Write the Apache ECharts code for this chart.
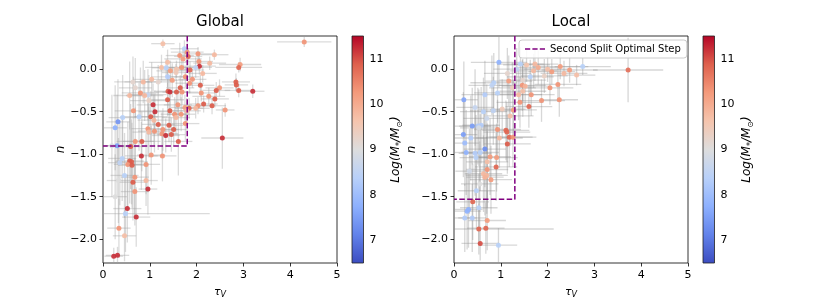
<!DOCTYPE html>
<html><head><meta charset="utf-8">
<script src="https://cdn.jsdelivr.net/npm/echarts@6/dist/echarts.min.js"></script>
<style>html,body{margin:0;padding:0;background:#fff}#c{width:830px;height:297px}</style>
</head><body><div id="c"></div>
<script>
// ---- Global panel data ----
const gTau = [4.30,1.28,1.74,1.80,2.03,2.38,1.64,1.82,1.71,2.05,
  1.38,2.28,2.93,2.90,2.06,1.98,1.25,1.35,1.57,1.68,
  1.86,1.44,1.56,2.13,1.38,1.04,1.76,1.91,2.84,2.85,
  0.64,0.86,1.18,1.48,1.85,2.08,2.49,2.42,2.90,3.20,
  0.69,0.80,1.39,1.43,1.65,1.57,1.69,0.96,0.89,0.57,
  2.10,2.26,1.38,0.98,2.39,1.60,2.15,2.33,2.03,1.07,
  1.11,1.75,1.84,2.61,1.98,1.79,1.43,0.65,1.02,1.53,
  1.67,1.56,0.77,0.42,0.32,0.26,1.09,1.18,1.41,1.76,
  0.96,1.51,1.28,1.10,0.98,1.26,1.34,1.46,2.55,1.61,
  0.69,0.83,0.30,0.19,0.59,1.03,1.27,0.82,0.41,0.57,
  0.61,0.36,0.53,0.62,0.92,0.46,0.68,0.33,0.64,0.92,
  0.96,0.68,0.26,0.52,0.48,0.71,0.34,0.46,0.23,0.31];
const gN = [0.32,0.30,0.24,0.20,0.18,0.17,0.16,0.15,0.12,0.09,
  0.08,0.07,0.055,0.02,0.035,0.02,0.02,0.016,0.0,0.02,
  -0.01,-0.02,-0.04,-0.05,-0.09,-0.12,-0.09,-0.12,-0.15,-0.185,
  -0.15,-0.15,-0.15,-0.13,-0.165,-0.19,-0.22,-0.25,-0.25,-0.26,
  -0.22,-0.28,-0.26,-0.27,-0.22,-0.27,-0.27,-0.30,-0.31,-0.31,
  -0.28,-0.32,-0.36,-0.37,-0.35,-0.42,-0.41,-0.43,-0.43,-0.42,
  -0.50,-0.45,-0.46,-0.48,-0.46,-0.49,-0.49,-0.49,-0.56,-0.53,
  -0.53,-0.57,-0.56,-0.57,-0.62,-0.69,-0.60,-0.65,-0.66,-0.64,
  -0.70,-0.71,-0.71,-0.73,-0.74,-0.76,-0.78,-0.77,-0.81,-0.85,
  -0.85,-0.85,-0.90,-0.90,-0.91,-1.01,-1.02,-1.02,-1.05,-1.08,
  -1.09,-1.10,-1.12,-1.13,-1.12,-1.25,-1.27,-1.31,-1.33,-1.31,
  -1.41,-1.44,-1.50,-1.64,-1.70,-1.74,-1.87,-1.96,-2.20,-2.19];
const gTauErr = [0.58,0.25,0.30,0.35,0.30,0.30,0.30,0.30,0.40,0.30,
  0.40,0.35,0.45,0.50,0.35,0.35,0.35,0.30,0.35,0.30,
  0.30,0.30,0.30,0.30,0.35,0.40,0.30,0.30,0.30,0.25,
  0.40,0.40,0.35,0.30,0.30,0.30,0.30,0.30,0.30,0.25,
  0.35,0.40,0.30,0.30,0.30,0.30,0.35,0.40,0.40,0.35,
  0.30,0.35,0.35,0.40,0.30,0.30,0.30,0.30,0.30,0.35,
  0.35,0.30,0.30,0.20,0.30,0.30,0.35,0.40,0.35,0.30,
  0.30,0.30,0.40,0.30,0.25,0.25,0.35,0.35,0.30,0.30,
  0.35,0.30,0.35,0.35,0.35,0.35,0.30,0.30,0.45,0.30,
  0.40,0.40,0.25,0.20,0.30,0.30,0.30,0.35,0.30,0.30,
  0.35,0.25,0.30,0.30,0.30,0.30,0.30,0.25,0.30,0.25,
  0.20,0.30,0.25,0.30,1.80,0.30,0.25,0.25,0.20,0.25];
const gNErr = [0.06,0.05,0.10,0.12,0.08,0.06,0.15,0.10,0.12,0.10,
  0.15,0.08,0.08,0.06,0.10,0.12,0.15,0.10,0.10,0.12,
  0.10,0.12,0.10,0.10,0.12,0.20,0.12,0.10,0.10,0.08,
  0.30,0.25,0.20,0.20,0.12,0.12,0.10,0.10,0.08,0.08,
  0.35,0.30,0.20,0.20,0.15,0.15,0.15,0.30,0.30,0.40,
  0.10,0.10,0.20,0.30,0.10,0.15,0.10,0.10,0.10,0.25,
  0.25,0.15,0.12,0.08,0.12,0.15,0.20,0.40,0.30,0.20,
  0.20,0.20,0.40,0.50,0.50,0.50,0.30,0.30,0.20,0.20,
  0.30,0.20,0.25,0.25,0.30,0.25,0.20,0.20,0.36,0.40,
  0.40,0.35,0.60,0.60,0.50,0.35,0.30,0.40,0.50,0.50,
  0.50,0.50,0.50,0.50,0.35,0.50,0.45,0.50,0.45,0.30,
  0.30,0.40,0.50,0.40,0.45,0.35,0.35,0.30,0.10,0.10];
const gMass = [10.3,9.7,8.4,10.3,10.3,9.8,10.3,10.8,10.2,10.3,
  9.7,9.8,10.2,10.8,11.2,8.5,9.7,8.4,9.6,10.3,
  10.8,10.2,9.5,9.8,8.3,9.8,10.3,10.3,10.9,10.9,
  9.2,9.8,9.2,10.2,10.3,10.9,10.3,10.9,10.9,11.2,
  9.2,10.3,10.9,11.2,10.9,10.9,10.3,8.6,9.8,9.8,
  10.3,10.3,10.9,9.3,10.9,10.3,10.9,10.9,10.3,11.2,
  11.2,10.2,10.8,10.3,9.8,9.8,10.9,10.3,10.9,10.3,
  10.3,9.8,8.4,8.4,7.4,7.8,9.8,10.9,10.9,10.3,
  10.3,10.9,10.3,10.3,9.8,10.3,11.2,10.9,11.2,10.9,
  10.3,10.9,7.5,8.9,10.9,10.3,10.3,11.2,8.4,10.9,
  10.9,8.5,10.3,10.9,10.3,8.4,10.3,9.0,10.9,9.8,
  11.2,10.3,9.0,11.2,8.4,11.2,10.3,9.7,11.2,11.2];

// ---- Local panel data ----
const lTau = [3.72,2.75,2.27,2.47,2.62,2.00,2.09,1.93,2.22,2.05,
  2.25,1.87,1.65,1.60,1.41,0.96,1.42,1.73,1.63,1.34,
  1.47,1.46,1.47,1.17,1.14,0.85,0.81,0.93,0.66,0.21,
  0.63,0.84,1.03,1.27,1.20,1.11,0.93,1.13,0.97,1.18,
  1.26,1.14,0.39,0.51,0.58,0.53,0.20,0.36,0.23,0.66,
  0.26,0.45,0.56,0.47,0.77,0.91,0.71,0.90,0.71,0.63,
  0.70,0.66,0.79,0.48,0.40,0.53,0.31,0.28,0.23,0.39,
  0.71,0.53,0.68,0.56,0.95,1.55,1.70,1.80,1.52,1.38,
  1.25,0.70,0.45,0.33,0.55,2.35];
const lN = [-0.01,0.03,0.03,-0.01,-0.07,0.00,-0.03,-0.08,-0.18,-0.22,
  -0.36,-0.37,-0.30,-0.44,-0.39,0.08,0.06,0.06,-0.09,0.00,
  -0.13,-0.19,-0.26,-0.14,-0.05,-0.16,-0.19,-0.28,-0.30,-0.36,
  -0.50,-0.49,-0.47,-0.48,-0.55,-0.72,-0.71,-0.74,-0.81,-0.80,
  -0.80,-0.88,-0.67,-0.67,-0.66,-0.69,-0.77,-0.81,-0.87,-0.94,
  -0.98,-0.99,-0.98,-1.04,-1.03,-1.04,-1.09,-1.15,-1.18,-1.23,
  -1.25,-1.27,-1.30,-1.43,-1.56,-1.63,-1.65,-1.67,-1.75,-1.75,
  -1.78,-1.88,-1.87,-2.05,-2.07,0.05,-0.02,0.02,-0.20,-0.30,
  -0.22,-0.58,-0.45,-1.20,-1.35,-0.05];
const lTauErr = [0.75,0.60,0.60,0.60,0.40,0.50,0.50,0.50,0.50,0.50,
  0.40,0.50,0.50,0.50,0.50,0.60,0.50,0.50,0.50,0.50,
  0.50,0.50,0.50,0.50,0.50,0.50,0.50,0.50,0.50,0.30,
  0.50,0.50,0.50,0.50,0.50,0.50,0.50,0.50,0.50,0.50,
  0.50,0.50,0.40,0.40,0.40,0.40,0.30,0.35,0.30,0.45,
  0.30,0.35,0.40,0.35,0.45,0.45,0.45,0.45,0.45,0.40,
  0.45,0.40,0.45,0.40,0.35,0.40,0.30,0.30,0.25,0.30,
  0.40,1.60,0.40,0.40,0.40,0.50,0.50,0.50,0.50,0.50,
  0.50,0.50,0.40,0.30,0.40,0.50];
const lNErr = [0.38,0.10,0.15,0.15,0.12,0.15,0.15,0.20,0.20,0.20,
  0.20,0.25,0.25,0.25,0.30,0.30,0.20,0.20,0.20,0.25,
  0.25,0.30,0.30,0.30,0.30,0.35,0.35,0.35,0.40,0.45,
  0.40,0.40,0.35,0.35,0.35,0.35,0.35,0.35,0.35,0.35,
  0.35,0.35,0.45,0.45,0.45,0.45,0.50,0.50,0.50,0.45,
  0.50,0.50,0.45,0.50,0.45,0.40,0.45,0.40,0.45,0.45,
  0.45,0.45,0.40,0.45,0.45,0.40,0.45,0.45,0.40,0.40,
  0.35,0.30,0.30,0.20,0.20,0.20,0.20,0.20,0.25,0.30,
  0.30,0.40,0.45,0.50,0.50,0.15];
const lMass = [10.7,8.4,10.2,10.2,9.7,9.7,10.2,9.3,10.3,10.3,
  10.3,10.3,10.3,10.8,10.3,7.8,8.4,9.8,8.4,8.5,
  9.2,10.3,9.7,10.2,9.2,8.4,8.5,8.4,8.3,7.6,
  8.4,8.5,9.5,10.2,9.7,10.8,10.3,10.8,9.8,10.8,
  10.3,10.9,7.5,8.3,8.3,8.9,7.5,8.3,8.0,7.3,
  7.8,8.3,8.4,8.4,10.2,10.2,9.7,10.8,10.3,9.8,
  9.8,9.9,10.2,8.4,10.8,8.4,7.8,7.8,8.3,8.3,
  10.2,10.8,10.8,11.0,8.4,9.6,9.8,10.0,9.9,9.8,
  9.4,8.7,8.6,8.8,9.0,9.8];

// ---- Axes / annotations ----
const tauTicks = [0,1,2,3,4,5];
const nTicks = [-2,-1.5,-1,-0.5,0];
const massTicks = [7,8,9,10,11];
const nRange = [-2.28, 0.39];
const tauRange = [0, 5];
const massRange = [6.5, 11.5];
const globalStep = [1.8, -0.905];
const localStep = [1.3, -1.53];
const titles = ['Global', 'Local'];
const legendLabel = 'Second Split Optimal Step';
const coolwarm = ['#3b4cc0','#6282ea','#8db0fe','#b8d0f9','#dddddd','#f5c4ad','#f49a7b','#de604d','#b40426'];

const FONT = 'DejaVu Sans';
const chart = echarts.init(document.getElementById('c'), null, {renderer:'canvas'});

function zip(){ const a = arguments; return a[0].map((_, i) => Array.from(a, arr => arr[i])); }

function errItem(color){
  return function(params, api){
    const x = api.value(0), y = api.value(1), ex = api.value(2), ey = api.value(3);
    const a = api.coord([x-ex, y]), b = api.coord([x+ex, y]);
    const c = api.coord([x, y-ey]), d = api.coord([x, y+ey]);
    const st = {stroke: color, lineWidth: 1.3};
    return {type:'group', children:[
      {type:'line', shape:{x1:a[0], y1:a[1], x2:b[0], y2:b[1]}, style: st},
      {type:'line', shape:{x1:c[0], y1:c[1], x2:d[0], y2:d[1]}, style: st}
    ]};
  };
}
function cbarItem(params, api){
  const p0 = api.coord([0, massRange[1]]), p1 = api.coord([1, massRange[0]]);
  return {type:'rect', shape:{x:p0[0], y:p0[1], width:p1[0]-p0[0], height:p1[1]-p0[1]},
    style:{fill: new echarts.graphic.LinearGradient(0,1,0,0,
      coolwarm.map((c,i) => ({offset: i/(coolwarm.length-1), color: c}))),
      stroke:'#222', lineWidth:0.8}};
}
const fmtN = v => (v < 0 ? '\u2212' : '') + Math.abs(v).toFixed(1);
const axisTxt = {color:'#000', fontFamily: FONT, fontSize: 11};

function mainX(i){
  return {type:'value', gridIndex:i, min:tauRange[0], max:tauRange[1], interval:1,
    splitLine:{show:false}, axisLine:{show:false, onZero:false},
    axisTick:{show:true, length:3.5, customValues:tauTicks, lineStyle:{color:'#000', width:0.8}},
    axisLabel: Object.assign({margin:7, customValues:tauTicks}, axisTxt),
    name:'{t|\u03c4}{s|V}', nameLocation:'middle', nameGap:22,
    nameTextStyle:{rich:{t:{fontFamily:FONT, fontStyle:'italic', fontSize:11, lineHeight:14, color:'#000'},
                         s:{fontFamily:FONT, fontStyle:'italic', fontSize:8, lineHeight:14, verticalAlign:'bottom', padding:[4,0,0,0], color:'#000'}}}};
}
function mainY(i){
  return {type:'value', gridIndex:i, min:nRange[0], max:nRange[1],
    splitLine:{show:false}, axisLine:{show:false, onZero:false},
    axisTick:{show:true, length:3.5, customValues:nTicks, lineStyle:{color:'#000', width:0.8}},
    axisLabel: Object.assign({margin:6, customValues:nTicks, formatter: fmtN}, axisTxt),
    name:'n', nameLocation:'middle', nameGap:36, nameRotate:90,
    nameTextStyle:{fontFamily:FONT, fontStyle:'italic', fontSize:12, color:'#000'}};
}
function cbX(i){ return {type:'value', gridIndex:i, min:0, max:1, show:false}; }
function cbY(i){
  return {type:'value', gridIndex:i, min:massRange[0], max:massRange[1], position:'right',
    splitLine:{show:false}, axisLine:{show:false},
    axisTick:{show:true, length:3.5, customValues:massTicks, lineStyle:{color:'#000', width:0.8}},
    axisLabel: Object.assign({margin:6, customValues:massTicks}, axisTxt),
    name:'{i|Log(M}{s|*}{i|/M}{s|\u2299}{i|)}', nameLocation:'middle', nameGap:24, nameRotate:90,
    nameTextStyle:{rich:{i:{fontFamily:FONT, fontStyle:'italic', fontSize:12, lineHeight:16, color:'#000'},
                         s:{fontFamily:FONT, fontStyle:'italic', fontSize:8, lineHeight:16, verticalAlign:'bottom', color:'#000'}}}};
}
const lineStyleStep = {color:'#800080', width:1.5, type:[5.5,2.4]};
const gridBase = {top:36, height:227, outerBoundsMode:'none', containLabel:false};

const option = {
  animation:false,
  backgroundColor:'#fff',
  grid:[
    Object.assign({left:103, width:234, show:true, borderColor:'#000', borderWidth:0.8}, gridBase),
    Object.assign({left:454, width:234, show:true, borderColor:'#000', borderWidth:0.8}, gridBase),
    Object.assign({left:352, width:11.5}, gridBase),
    Object.assign({left:703, width:11.5}, gridBase)
  ],
  xAxis:[mainX(0), mainX(1), cbX(2), cbX(3)],
  yAxis:[mainY(0), mainY(1), cbY(2), cbY(3)],
  graphic:[
    {type:'text', x:220, y:22, style:{text:titles[0], fontFamily:FONT, fontSize:15, fill:'#000', align:'center', verticalAlign:'middle', textAlign:'center', textVerticalAlign:'middle'}},
    {type:'text', x:571, y:22, style:{text:titles[1], fontFamily:FONT, fontSize:15, fill:'#000', align:'center', verticalAlign:'middle', textAlign:'center', textVerticalAlign:'middle'}}
  ],
  legend:{data:[{name:legendLabel, icon:'path://M0,0L6,0L6,1.5L0,1.5Z M8.5,0L14.5,0L14.5,1.5L8.5,1.5Z M17,0L23,0L23,1.5L17,1.5Z'}],
    left:519, top:40, padding:[4,6,4,6], itemWidth:20, itemHeight:1.6,
    backgroundColor:'rgba(255,255,255,0.85)', borderColor:'#cccccc', borderWidth:1, borderRadius:3,
    textStyle:{fontFamily:FONT, fontSize:10, color:'#000'}},
  visualMap:[
    {type:'continuous', show:false, min:massRange[0], max:massRange[1], dimension:2, seriesIndex:1, inRange:{color:coolwarm}},
    {type:'continuous', show:false, min:massRange[0], max:massRange[1], dimension:2, seriesIndex:4, inRange:{color:coolwarm}}
  ],
  series:[
    {type:'custom', name:'gErr', xAxisIndex:0, yAxisIndex:0, clip:true, z:1, silent:true,
     renderItem: errItem('rgba(160,160,160,0.38)'), data: zip(gTau, gN, gTauErr, gNErr)},
    {type:'scatter', name:'gPts', xAxisIndex:0, yAxisIndex:0, z:2, symbolSize:5,
     itemStyle:{opacity:0.92}, data: zip(gTau, gN, gMass)},
    {type:'line', name:'gStep', xAxisIndex:0, yAxisIndex:0, z:3, symbol:'none',
     lineStyle: lineStyleStep, data:[[globalStep[0], nRange[1]], [globalStep[0], globalStep[1]], [tauRange[0], globalStep[1]]]},
    {type:'custom', name:'lErr', xAxisIndex:1, yAxisIndex:1, clip:true, z:1, silent:true,
     renderItem: errItem('rgba(145,145,145,0.36)'), data: zip(lTau, lN, lTauErr, lNErr)},
    {type:'scatter', name:'lPts', xAxisIndex:1, yAxisIndex:1, z:2, symbolSize:5,
     itemStyle:{opacity:0.92}, data: zip(lTau, lN, lMass)},
    {type:'line', name:legendLabel, xAxisIndex:1, yAxisIndex:1, z:3, symbol:'none', color:'#800080',
     itemStyle:{color:'#800080'},
     lineStyle: lineStyleStep, data:[[localStep[0], nRange[1]], [localStep[0], localStep[1]], [tauRange[0], localStep[1]]]},
    {type:'custom', name:'cb1', xAxisIndex:2, yAxisIndex:2, silent:true, renderItem: cbarItem, data:[[0, massRange[0]]]},
    {type:'custom', name:'cb2', xAxisIndex:3, yAxisIndex:3, silent:true, renderItem: cbarItem, data:[[0, massRange[0]]]}
  ]
};
chart.setOption(option);
</script>
</body></html>
